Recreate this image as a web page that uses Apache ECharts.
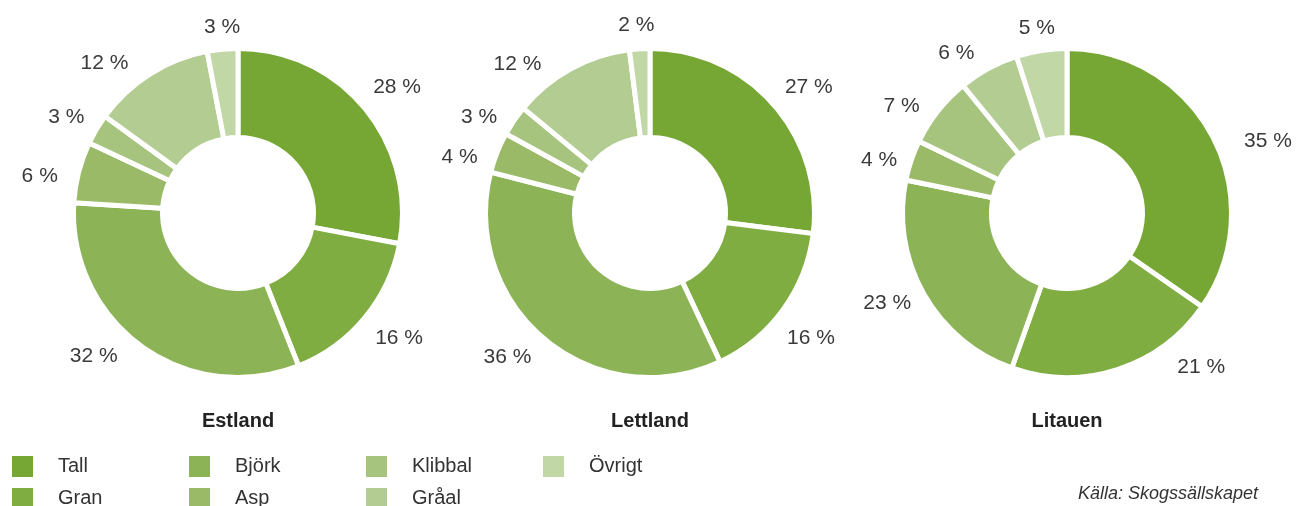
<!DOCTYPE html>
<html>
<head>
<meta charset="utf-8">
<script src="https://cdn.jsdelivr.net/npm/echarts@6/dist/echarts.min.js"></script>
<style>
  html, body { margin: 0; padding: 0; background: #fff; }
  #chart { width: 1296px; height: 506px; }
</style>
</head>
<body>
<div id="chart"></div>
<script>
// trädslag och andelar (%)
var species = ['Tall', 'Gran', 'Björk', 'Asp', 'Klibbal', 'Gråal', 'Övrigt'];
var countries = ['Estland', 'Lettland', 'Litauen'];
var estland = [28, 16, 32, 6, 3, 12, 3];
var lettland = [27, 16, 36, 4, 3, 12, 2];
var litauen = [35, 21, 23, 4, 7, 6, 5];
var source = 'Källa: Skogssällskapet';

// handplacerade etiketter i originalet: små förskjutningar [dx, dy]
var nudgeEstland = [[0, -3], [2, 2], [-23, -13], [-4, 11], [1, 2], [-23, 13], [3, 6]];
var nudgeLettland = [[4, 2], [-6, 12], [-11, -5], [-4, 15], [-5, 13], [-33, 20], [-1, 5]];
var nudgeLitauen = [[18, 18], [71, -30], [0, -5], [2, 9], [-8, 13], [-15, 10], [1, 6]];
var nudges = [nudgeEstland, nudgeLettland, nudgeLitauen];

var colors = ['#76a734', '#80ad41', '#8db357', '#9aba68', '#a7c47f', '#b3cc91', '#c2d7a6'];
var font = 'Liberation Sans, Arial, sans-serif';

var chart = echarts.init(document.getElementById('chart'));

// centrera etiketten runt strålen från mittpunkten
function placeLabel(params) {
  var pts = params.labelLinePoints;
  if (!pts) return {};
  var dx = pts[1][0] - pts[0][0];
  var dy = pts[1][1] - pts[0][1];
  var len = Math.sqrt(dx * dx + dy * dy) || 1;
  dx /= len; dy /= len;
  var w = params.labelRect.width, h = params.labelRect.height;
  var n = (nudges[params.seriesIndex] || [])[params.dataIndex] || [0, 0];
  return {
    x: pts[1][0] + dx * w / 2 + n[0],
    y: pts[1][1] + dy * h / 2 + n[1],
    align: 'center',
    verticalAlign: 'middle'
  };
}

function makePie(values, cx) {
  return {
    type: 'pie',
    center: [cx, 213],
    radius: [75.5, 164.5],
    startAngle: 90,
    clockwise: true,
    avoidLabelOverlap: false,
    animation: false,
    itemStyle: { borderColor: '#fff', borderWidth: 5 },
    label: {
      show: true,
      position: 'outside',
      formatter: '{c} %',
      color: '#3a3a3a',
      fontSize: 21,
      fontFamily: font,
      distanceToLabelLine: 0
    },
    labelLine: { show: true, length: 18, length2: 0, lineStyle: { opacity: 0 } },
    labelLayout: placeLabel,
    emphasis: { disabled: true },
    data: species.map(function (name, i) {
      return { name: name, value: values[i] };
    })
  };
}

var centers = [238, 650, 1067];
var legendCols = [['Tall', 'Gran'], ['Björk', 'Asp'], ['Klibbal', 'Gråal'], ['Övrigt']];
var legendLeft = [10, 187, 364, 541];

var option = {
  color: colors,
  animation: false,
  title: countries.map(function (c, i) {
    return {
      text: c,
      left: centers[i],
      top: 411,
      textAlign: 'center',
      padding: 0,
      textStyle: { fontSize: 20, fontWeight: 'bold', color: '#222', fontFamily: font }
    };
  }).concat([{
    text: source,
    right: 38,
    top: 485,
    padding: 0,
    textStyle: { fontSize: 18, fontStyle: 'italic', fontWeight: 'normal', color: '#333', fontFamily: font }
  }]),
  legend: legendCols.map(function (col, i) {
    return {
      data: col,
      orient: 'vertical',
      left: legendLeft[i],
      top: 454,
      height: 80,
      padding: 0,
      itemWidth: 23,
      itemHeight: 23,
      itemGap: 7,
      icon: 'rect',
      selectedMode: false,
      textStyle: { fontSize: 20, color: '#333', fontFamily: font, padding: [0, 0, 0, 19] }
    };
  }),
  series: [
    makePie(estland, centers[0]),
    makePie(lettland, centers[1]),
    makePie(litauen, centers[2])
  ]
};

chart.setOption(option);
</script>
</body>
</html>
